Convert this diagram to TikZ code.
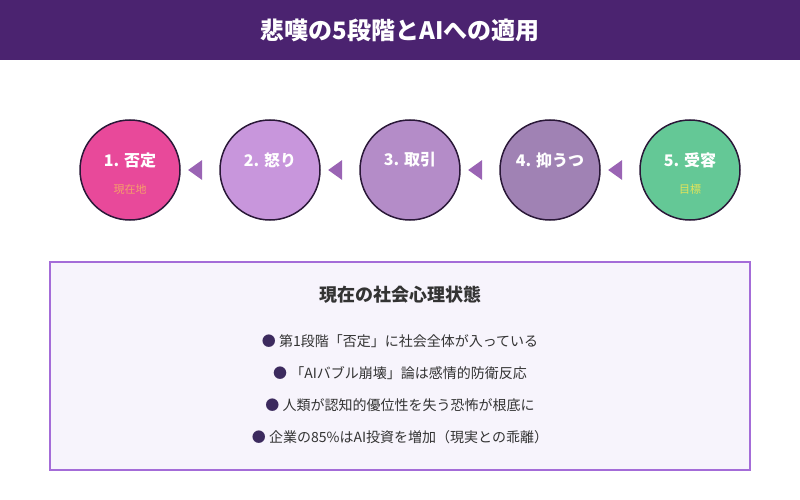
\documentclass[tikz,border=0pt]{standalone}
\usepackage{fontspec}
\setmainfont{Noto Sans CJK JP}
\definecolor{titlepurple}{HTML}{4B2370}
\definecolor{stageline}{HTML}{2A1838}
\definecolor{denialpink}{HTML}{E8499A}
\definecolor{angerlilac}{HTML}{C896DC}
\definecolor{bargainmauve}{HTML}{B48CC8}
\definecolor{depressgrey}{HTML}{A082B4}
\definecolor{acceptgreen}{HTML}{64C896}
\definecolor{pointerpurple}{HTML}{9A64B4}
\definecolor{panelfill}{HTML}{F7F4FC}
\definecolor{panelline}{HTML}{A46CD8}
\definecolor{bodytext}{HTML}{333333}
\definecolor{dotpurple}{HTML}{3C2A5E}
\definecolor{hereorange}{HTML}{F5A06A}
\definecolor{goalyellow}{HTML}{E2E35A}
\usetikzlibrary{shapes.geometric,positioning,calc}
\tikzstyle{stage}=[draw=stageline,line width=1.5pt,circle,minimum
size=100pt,inner sep=0pt]
\tikzstyle{stagetext}=[text=white,font=\bfseries\fontsize{16}{18}\selectfont]
\tikzstyle{stagenote}=[font=\fontsize{11}{12}\selectfont]
\tikzstyle{pointer}=[isosceles triangle,isosceles triangle stretches,
shape border rotate=180,fill=pointerpurple,inner sep=0pt,minimum
height=14pt,minimum width=20pt]
\tikzstyle{item}=[text=bodytext,font=\fontsize{14}{16}\selectfont]

\begin{document}
\begin{tikzpicture}[x=1pt, y=-1pt, on grid, node distance=140pt]
  \useasboundingbox (0,0) rectangle (800,500);
  % title bar
  \fill[titlepurple] (0,0) rectangle (800,60);
  \node[text=white, font=\bfseries\fontsize{24}{26}\selectfont] (title) at (400,30)
  {悲嘆の5段階とAIへの適用};

  % the five stages
  \node[stage, fill=denialpink]             (s1) at (130,170) {};
  \node[stage, fill=angerlilac, right=of s1]   (s2) {};
  \node[stage, fill=bargainmauve, right=of s2] (s3) {};
  \node[stage, fill=depressgrey, right=of s3]  (s4) {};
  \node[stage, fill=acceptgreen, right=of s4]  (s5) {};

  \node[stagetext] (t1) at ([yshift=10pt]s1.center) {1. 否定};
  \node[stagetext] (t2) at ([yshift=10pt]s2.center) {2. 怒り};
  \node[stagetext] (t3) at ([yshift=10pt]s3.center) {3. 取引};
  \node[stagetext] (t4) at ([yshift=10pt]s4.center) {4. 抑うつ};
  \node[stagetext] (t5) at ([yshift=10pt]s5.center) {5. 受容};
  \node[stagenote, text=hereorange] (n1) at ([yshift=-19pt]s1.center) {現在地};
  \node[stagenote, text=goalyellow] (n5) at ([yshift=-19pt]s5.center) {目標};

  \node[pointer] (p1) at ([xshift=-3pt]$(s1)!0.5!(s2)$) {};
  \node[pointer] (p2) at ([xshift=-3pt]$(s2)!0.5!(s3)$) {};
  \node[pointer] (p3) at ([xshift=-3pt]$(s3)!0.5!(s4)$) {};
  \node[pointer] (p4) at ([xshift=-3pt]$(s4)!0.5!(s5)$) {};

  % panel
  \draw[panelline, fill=panelfill, line width=1.5pt] (50,262) rectangle (750,470);
  \node[text=bodytext, font=\bfseries\fontsize{18}{20}\selectfont] (head) at (400,295)
  {現在の社会心理状態};
  \node[item] (b1) at (400,341) {\textcolor{dotpurple}{●} 第1段階「否定」に社会全体が入っている};
  \node[item] (b2) at (400,373) {\textcolor{dotpurple}{●} 「AIバブル崩壊」論は感情的防衛反応};
  \node[item] (b3) at (400,405) {\textcolor{dotpurple}{●} 人類が認知的優位性を失う恐怖が根底に};
  \node[item] (b4) at (400,437) {\textcolor{dotpurple}{●} 企業の85\%はAI投資を増加（現実との乖離）};
\end{tikzpicture}
\end{document}
